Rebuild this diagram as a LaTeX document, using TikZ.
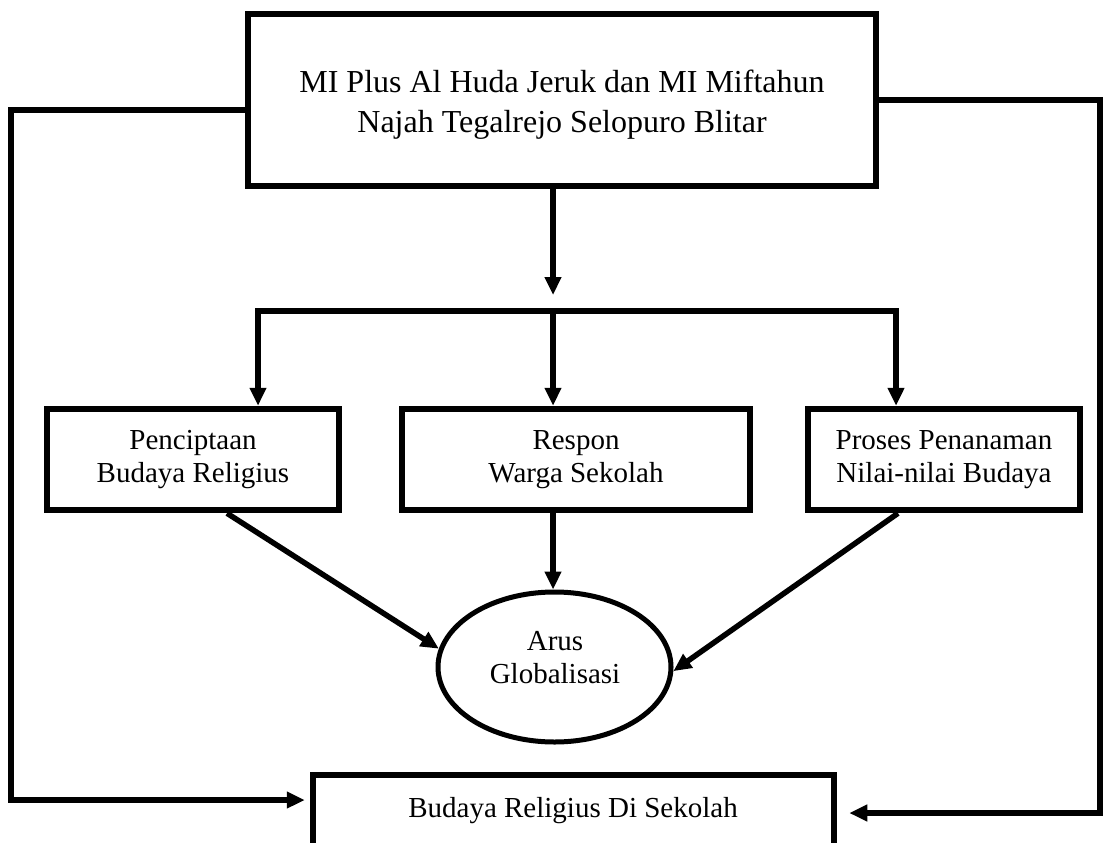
\documentclass[tikz,border=0pt]{standalone}
\usepackage{fontspec}
\setmainfont{Liberation Serif}
\usetikzlibrary{arrows.meta,shapes.geometric}
\begin{document}
\begin{tikzpicture}[x=1pt,y=-1pt,
  boxline/.style={draw=black, line width=6.5pt, rectangle, inner sep=0pt, align=center},
  conn/.style={draw=black, line width=5.5pt},
  arr/.style={conn, -{Triangle[length=18pt,width=16pt]}},
  bigtext/.style={font=\fontsize{32}{40}\selectfont},
  smalltext/.style={font=\fontsize{29}{33}\selectfont}]
\useasboundingbox (0,0) rectangle (1103,843);
\clip (0,0) rectangle (1103,843);
% boxes
\node[boxline, minimum width=628pt, minimum height=172pt] (top) at (562,100) {};
\node[bigtext, align=center] (toptxt) at (562,105)
  {MI Plus Al Huda Jeruk dan MI Miftahun\\Najah Tegalrejo Selopuro Blitar};
\node[boxline, smalltext, minimum width=292pt, minimum height=101pt] (lbox) at (193,459.5)
  {Penciptaan\\Budaya Religius};
\node[boxline, smalltext, minimum width=348pt, minimum height=101pt] (mbox) at (576,459.5)
  {Respon\\Warga Sekolah};
\node[boxline, smalltext, minimum width=272pt, minimum height=101pt] (rbox) at (944,459.5)
  {Proses Penanaman\\Nilai-nilai Budaya};
\node[draw=black, line width=5pt, ellipse, minimum width=233pt, minimum height=150pt, inner sep=0pt] (ell) at (554.5,667) {};
\node[smalltext, align=center] (elltxt) at (555,657.5) {Arus\\Globalisasi};
\node[boxline, minimum width=521pt, minimum height=110pt] (bbox) at (573.5,830) {};
\node[smalltext, anchor=base] (btxt) at (573,817) {Budaya Religius Di Sekolah};
% coordinates
\coordinate (lc) at (11,110);
\coordinate (lb) at (11,800);
\coordinate (rc) at (1100,100);
\coordinate (rb) at (1100,813);
\coordinate (hub) at (553,295);
\coordinate (barL) at (258,311);
\coordinate (barM) at (553,311);
\coordinate (barR) at (896,311);
\coordinate (lsx) at (227,0);
\coordinate (rsx) at (898,0);
% connectors
\draw[arr] (top.west |- lc) -- (lc) -- (lb) -- ([xshift=-5pt]bbox.west |- lb);
\draw[arr] (top.east |- rc) -- (rc) -- (rb) -- ([xshift=12pt]bbox.east |- rb);
\draw[arr] (top.south -| hub) -- (hub);
\draw[conn, line cap=rect] (barL) -- (barR);
\draw[arr] (barL) -- (lbox.north -| barL);
\draw[arr] (barM) -- (mbox.north -| barM);
\draw[arr] (barR) -- (rbox.north -| barR);
\draw[arr] (lbox.south -| lsx) -- (ell.171);
\draw[arr] (mbox.south -| hub) -- (ell.north -| hub);
\draw[arr] (rbox.south -| rsx) -- (ell.-2);
\end{tikzpicture}
\end{document}
